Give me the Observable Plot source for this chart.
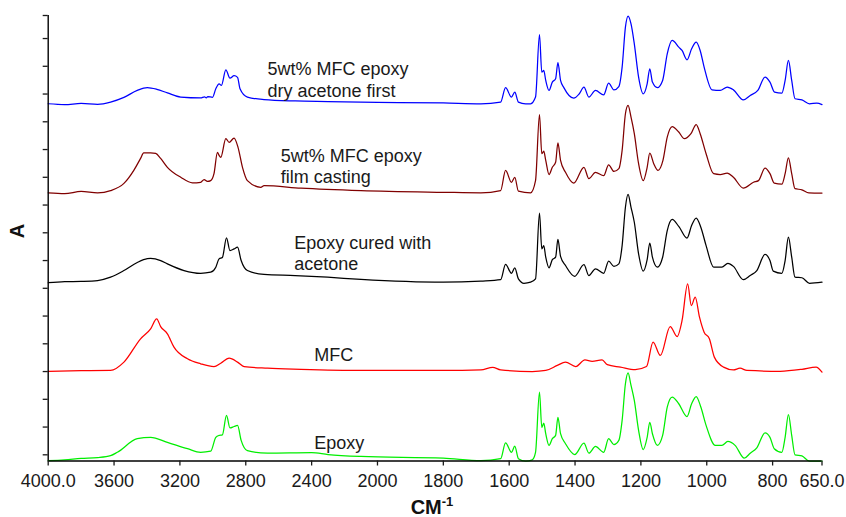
<!DOCTYPE html>
<html>
<head>
<meta charset="utf-8">
<script src="https://cdn.jsdelivr.net/npm/d3@7"></script>
<script src="https://cdn.jsdelivr.net/npm/@observablehq/plot@0.6"></script>
<style>
  html, body { margin: 0; padding: 0; background: #fff; }
  #chart { width: 846px; height: 517px; }
</style>
</head>
<body>
<div id="chart"></div>
<script>
// Tick labels
const xTicks = [4000, 3600, 3200, 2800, 2400, 2000, 1800, 1600, 1400, 1200, 1000, 800, 650];
const yTicks = [0, 0.1, 0.2, 0.3, 0.4, 0.5, 0.6, 0.7, 0.8, 0.9, 1.0, 1.1, 1.2, 1.3, 1.4, 1.5, 1.583];

// Spectra: [wavenumber (cm-1), absorbance (offset)]
const dryAcetoneFirst = [
  [4000,1.265],[3900,1.262],[3800,1.266],[3700,1.263],[3621,1.271],[3540,1.288],[3459,1.313],[3398,1.323],[3340,1.317],
  [3276,1.304],[3195,1.289],[3074,1.286],[3050,1.290],[3040,1.286],[3030,1.291],[3002,1.288],[2982,1.319],[2962,1.337],
  [2948,1.331],[2921,1.387],[2896,1.357],[2871,1.366],[2850,1.360],[2835,1.319],[2790,1.289],[2689,1.280],[2500,1.275],
  [2300,1.273],[2000,1.270],[1800,1.268],[1686,1.265],[1626,1.271],[1611,1.323],[1593,1.289],[1583,1.307],[1572,1.271],
  [1550,1.265],[1535,1.265],[1520,1.289],[1508,1.514],[1501,1.379],[1495,1.385],[1489,1.349],[1479,1.313],[1469,1.343],
  [1459,1.355],[1452,1.413],[1444,1.349],[1434,1.323],[1404,1.285],[1387,1.301],[1373,1.325],[1358,1.289],[1338,1.313],
  [1313,1.297],[1298,1.339],[1282,1.315],[1267,1.327],[1257,1.397],[1247,1.541],[1239,1.581],[1230,1.553],[1220,1.481],
  [1207,1.361],[1193,1.301],[1181,1.337],[1173,1.391],[1165,1.343],[1150,1.323],[1134,1.349],[1120,1.445],[1105,1.493],
  [1085,1.469],[1075,1.457],[1060,1.423],[1046,1.463],[1032,1.487],[1020,1.457],[1008,1.397],[984,1.315],[959,1.313],
  [938,1.325],[919,1.315],[889,1.279],[868,1.295],[845,1.313],[823,1.361],[808,1.343],[794,1.307],[772,1.303],[762,1.349],
  [752,1.421],[742,1.349],[732,1.283],[711,1.279],[688,1.265],[666,1.267],[650,1.262]
];

const filmCasting = [
  [4000,0.944],[3900,0.941],[3800,0.949],[3700,0.944],[3621,0.952],[3540,0.978],[3480,1.025],[3439,1.068],[3420,1.088],
  [3378,1.088],[3347,1.086],[3317,1.068],[3276,1.036],[3195,1.000],[3124,0.980],[3074,0.982],[3053,0.992],[3033,0.985],
  [3013,0.988],[2993,1.013],[2972,1.090],[2962,1.079],[2952,1.072],[2921,1.139],[2901,1.126],[2871,1.141],[2847,1.108],
  [2820,1.036],[2790,0.988],[2709,0.964],[2689,0.970],[2465,0.961],[2100,0.952],[1800,0.946],[1686,0.944],[1626,0.952],
  [1611,1.025],[1593,0.982],[1583,1.000],[1572,0.950],[1535,0.944],[1520,0.988],[1508,1.226],[1501,1.085],[1495,1.094],
  [1489,1.061],[1479,1.010],[1469,1.036],[1459,1.054],[1452,1.124],[1444,1.061],[1429,1.018],[1404,0.979],[1373,1.036],
  [1358,0.995],[1338,1.018],[1313,1.006],[1298,1.045],[1282,1.021],[1267,1.031],[1257,1.097],[1247,1.229],[1239,1.259],
  [1230,1.217],[1220,1.157],[1207,1.049],[1193,0.988],[1181,1.036],[1173,1.087],[1161,1.049],[1148,1.025],[1133,1.061],
  [1120,1.145],[1105,1.183],[1085,1.163],[1068,1.139],[1048,1.157],[1032,1.190],[1020,1.157],[1002,1.085],[979,1.013],
  [959,1.010],[938,1.015],[919,1.000],[889,0.961],[858,0.982],[843,0.988],[823,1.033],[808,1.013],[795,0.979],[772,0.975],
  [762,1.013],[752,1.070],[742,1.013],[732,0.959],[711,0.955],[690,0.944],[650,0.943]
];

const curedWithAcetone = [
  [4000,0.620],[3900,0.624],[3800,0.625],[3700,0.628],[3621,0.640],[3540,0.664],[3459,0.693],[3398,0.707],[3378,0.708],
  [3317,0.700],[3276,0.688],[3175,0.664],[3074,0.654],[3013,0.658],[2982,0.676],[2962,0.706],[2942,0.711],[2917,0.782],
  [2896,0.736],[2871,0.742],[2850,0.748],[2828,0.700],[2790,0.664],[2689,0.650],[2500,0.646],[2303,0.640],[2100,0.632],
  [1800,0.622],[1686,0.626],[1626,0.631],[1611,0.686],[1593,0.654],[1583,0.674],[1572,0.634],[1555,0.618],[1535,0.622],
  [1520,0.634],[1508,0.871],[1501,0.742],[1495,0.754],[1489,0.712],[1479,0.674],[1469,0.703],[1459,0.712],[1452,0.776],
  [1444,0.715],[1429,0.682],[1401,0.643],[1373,0.685],[1358,0.646],[1338,0.670],[1313,0.654],[1298,0.698],[1282,0.679],
  [1267,0.688],[1257,0.754],[1247,0.892],[1239,0.938],[1230,0.892],[1220,0.838],[1207,0.724],[1193,0.662],[1181,0.703],
  [1173,0.763],[1165,0.712],[1150,0.676],[1134,0.712],[1120,0.808],[1105,0.848],[1085,0.823],[1060,0.781],[1046,0.826],
  [1032,0.853],[1018,0.820],[1002,0.754],[979,0.676],[954,0.676],[936,0.690],[919,0.679],[889,0.631],[868,0.646],[848,0.664],
  [823,0.722],[808,0.700],[798,0.662],[772,0.654],[762,0.700],[752,0.784],[742,0.712],[732,0.640],[711,0.638],[688,0.618],
  [650,0.622]
];

const mfc = [
  [4000,0.301],[3800,0.303],[3621,0.304],[3540,0.334],[3439,0.418],[3378,0.454],[3341,0.490],[3317,0.462],[3276,0.436],
  [3236,0.388],[3154,0.346],[3074,0.328],[2993,0.318],[2952,0.330],[2901,0.348],[2850,0.334],[2810,0.318],[2668,0.312],
  [2465,0.308],[2100,0.304],[1800,0.304],[1686,0.306],[1650,0.315],[1626,0.306],[1530,0.300],[1489,0.304],[1454,0.322],
  [1429,0.334],[1398,0.318],[1370,0.342],[1348,0.337],[1318,0.342],[1302,0.325],[1262,0.316],[1217,0.307],[1183,0.318],
  [1163,0.406],[1141,0.358],[1111,0.462],[1090,0.426],[1075,0.484],[1058,0.616],[1047,0.538],[1035,0.568],[1022,0.496],
  [1008,0.442],[992,0.418],[977,0.352],[949,0.316],[919,0.306],[899,0.312],[878,0.304],[777,0.301],[711,0.308],[668,0.316],
  [650,0.298]
];

const epoxy = [
  [4000,-0.021],[3900,-0.018],[3800,-0.013],[3700,-0.010],[3621,-0.003],[3580,0.009],[3459,0.058],[3378,0.063],[3276,0.045],
  [3154,0.022],[3074,0.009],[3013,0.013],[2982,0.063],[2962,0.070],[2942,0.072],[2917,0.142],[2896,0.097],[2871,0.102],
  [2850,0.106],[2828,0.052],[2790,0.015],[2668,0.006],[2400,0.008],[2300,0.001],[2100,-0.006],[1800,-0.012],[1686,-0.021],
  [1626,-0.014],[1611,0.043],[1593,0.009],[1583,0.031],[1572,-0.014],[1550,-0.023],[1530,-0.018],[1520,0.009],[1508,0.226],
  [1501,0.099],[1495,0.114],[1489,0.076],[1479,0.034],[1469,0.058],[1459,0.070],[1452,0.135],[1444,0.076],[1429,0.040],
  [1401,0.001],[1373,0.042],[1358,0.006],[1338,0.030],[1313,0.009],[1298,0.058],[1282,0.037],[1267,0.052],[1257,0.124],
  [1247,0.256],[1239,0.295],[1230,0.250],[1220,0.196],[1207,0.088],[1193,0.019],[1181,0.063],[1173,0.117],[1165,0.076],
  [1150,0.034],[1134,0.070],[1120,0.172],[1105,0.208],[1085,0.184],[1060,0.138],[1046,0.184],[1032,0.210],[1018,0.172],
  [1002,0.106],[974,0.034],[954,0.034],[936,0.048],[914,0.034],[886,-0.012],[868,0.006],[848,0.025],[823,0.079],[808,0.063],
  [795,0.022],[772,0.009],[762,0.063],[752,0.145],[742,0.070],[732,0.000],[711,-0.004],[688,-0.023],[650,-0.023]
];

// Annotation text and anchors (wavenumber, absorbance at text baseline)
const labelText = ["5wt% MFC epoxy", "dry acetone first", "5wt% MFC epoxy", "film casting", "Epoxy cured with", "acetone", "MFC", "Epoxy"];
const labelWn = [2668, 2668, 2587, 2587, 2506, 2506, 2384, 2384];
const labelA = [1.367, 1.289, 1.054, 0.979, 0.742, 0.667, 0.337, 0.022];

const seriesList = [
  {data: dryAcetoneFirst, color: "#0000ff"},
  {data: filmCasting, color: "#800000"},
  {data: curedWithAcetone, color: "#000000"},
  {data: mfc, color: "#ff0000"},
  {data: epoxy, color: "#00ee00"}
];

// Broken (two-slope) wavenumber axis: below 2000 cm-1 the scale is expanded 2x
const BREAK = 2000, EXPAND = 2;
const u = wn => wn >= BREAK ? (4000 - wn) : (4000 - BREAK) + (BREAK - wn) * EXPAND;
const uMax = u(650);
const tickLabel = new Map(xTicks.map(t => [u(t), (t === 4000 || t === 650) ? t.toFixed(1) : String(t)]));

const labels = labelText.map((t, i) => ({t, wn: labelWn[i], a: labelA[i]}));
const yMin = -0.0223, yMax = 1.583;
const font = "'Liberation Sans', Arial, Helvetica, sans-serif";

const chart = Plot.plot({
  width: 846,
  height: 517,
  marginLeft: 47.7,
  marginRight: 24.5,
  marginTop: 15,
  marginBottom: 56.5,
  style: {fontFamily: font, color: "#1a1a1a", background: "#fff", overflow: "visible"},
  x: {type: "linear", domain: [0, uMax]},
  y: {type: "linear", domain: [yMin, yMax]},
  marks: [
    ...seriesList.map(s => Plot.line(s.data, {x: d => u(d[0]), y: d => d[1], stroke: s.color, strokeWidth: 1.25, curve: "monotone-x"})),
    Plot.ruleX([0], {y1: yMin, y2: yMax, stroke: "#000", strokeWidth: 1.4}),
    Plot.ruleY([yMin], {x1: 0, x2: uMax, stroke: "#000", strokeWidth: 1.4}),
    Plot.axisX(xTicks.map(u), {anchor: "bottom", tickSize: 5, tickPadding: 8, fontSize: 18, strokeWidth: 1.3,
      tickFormat: v => tickLabel.get(v), label: null}),
    Plot.axisY(yTicks, {anchor: "left", tickSize: 5, strokeWidth: 1.3, tickFormat: () => "", label: null}),
    Plot.text(labels, {x: d => u(d.wn), y: "a", text: "t", textAnchor: "start", lineAnchor: "bottom", fontSize: 18, fill: "#1a1a1a"}),
    Plot.text(["A"], {frameAnchor: "left", dx: -30.5, rotate: -90, fontSize: 20, fontWeight: "bold", fill: "#111"})
  ]
});

document.getElementById("chart").appendChild(chart);

// x-axis title with superscript
const svg = d3.select(chart);
const t = svg.append("text")
  .attr("x", 432).attr("y", 514)
  .attr("text-anchor", "middle")
  .attr("font-family", font)
  .attr("font-weight", "bold")
  .attr("font-size", 20)
  .attr("fill", "#111");
t.append("tspan").text("CM");
t.append("tspan").attr("dy", -8).attr("font-size", 13).text("-1");
</script>
</body>
</html>
